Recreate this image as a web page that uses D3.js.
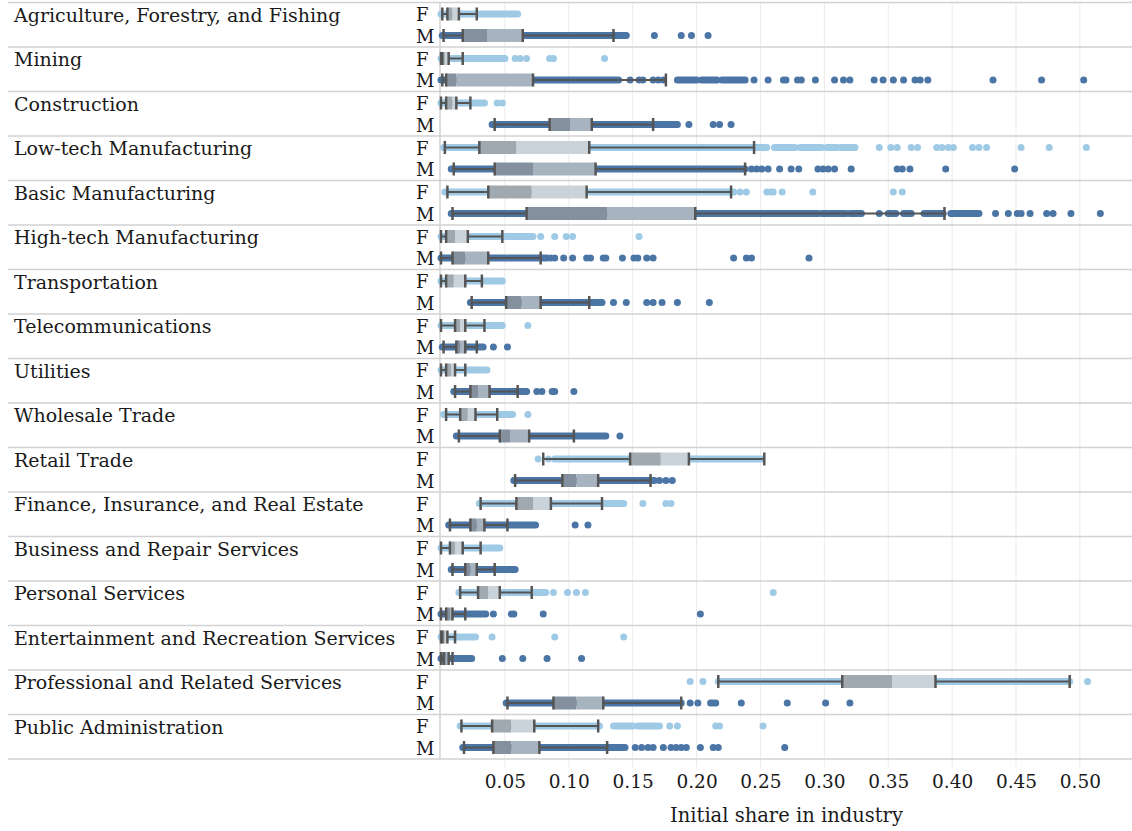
<!DOCTYPE html>
<meta charset="utf-8">
<script src="https://d3js.org/d3.v7.min.js"></script>
<style>
  body { margin: 0; background: #fff; }
  text { font-family: "DejaVu Serif", serif; fill: #1a1a1a; }
</style>
<div id="chart"></div>
<script>

// industries, top to bottom
var industries = [
  "Agriculture, Forestry, and Fishing", "Mining", "Construction",
  "Low-tech Manufacturing", "Basic Manufacturing", "High-tech Manufacturing",
  "Transportation", "Telecommunications", "Utilities", "Wholesale Trade",
  "Retail Trade", "Finance, Insurance, and Real Estate",
  "Business and Repair Services", "Personal Services",
  "Entertainment and Recreation Services", "Professional and Related Services",
  "Public Administration"
];
var sexes = ["F", "M"];

// box stats per industry: [whisker low, Q1, median, Q3, whisker high]
var statsF = [
  [0.001, 0.005, 0.009, 0.014, 0.028], [0.000, 0.001, 0.003, 0.006, 0.017],
  [0.000, 0.004, 0.009, 0.012, 0.023], [0.003, 0.030, 0.059, 0.116, 0.245],
  [0.005, 0.037, 0.071, 0.114, 0.227], [0.000, 0.004, 0.011, 0.021, 0.048],
  [0.000, 0.004, 0.010, 0.019, 0.032], [0.000, 0.011, 0.015, 0.019, 0.034],
  [0.000, 0.004, 0.008, 0.011, 0.019], [0.004, 0.015, 0.021, 0.027, 0.044],
  [0.080, 0.148, 0.172, 0.194, 0.253], [0.031, 0.059, 0.072, 0.086, 0.126],
  [0.000, 0.007, 0.011, 0.017, 0.031], [0.015, 0.029, 0.037, 0.046, 0.071],
  [0.000, 0.001, 0.003, 0.005, 0.011], [0.217, 0.314, 0.353, 0.387, 0.492],
  [0.016, 0.040, 0.055, 0.073, 0.123]
];
var statsM = [
  [0.002, 0.017, 0.036, 0.064, 0.135], [0.001, 0.004, 0.012, 0.072, 0.176],
  [0.042, 0.085, 0.101, 0.118, 0.166], [0.010, 0.042, 0.072, 0.121, 0.238],
  [0.009, 0.067, 0.130, 0.199, 0.394], [0.000, 0.009, 0.019, 0.037, 0.078],
  [0.024, 0.051, 0.063, 0.078, 0.116], [0.002, 0.012, 0.015, 0.019, 0.028],
  [0.011, 0.023, 0.029, 0.038, 0.060], [0.014, 0.046, 0.054, 0.069, 0.104],
  [0.058, 0.095, 0.106, 0.123, 0.164], [0.007, 0.023, 0.028, 0.034, 0.052],
  [0.009, 0.019, 0.023, 0.028, 0.042], [0.000, 0.004, 0.007, 0.009, 0.019],
  [0.000, 0.002, 0.004, 0.006, 0.009], [0.052, 0.088, 0.106, 0.127, 0.188],
  [0.018, 0.041, 0.055, 0.077, 0.130]
];

// stretches where the points overlap into a solid run: [from, to]
var bandsF = [
  [[0.000, 0.060]], [[0.000, 0.050]], [[0.000, 0.034]],
  [[0.002, 0.255], [0.261, 0.277], [0.281, 0.298], [0.302, 0.310], [0.313, 0.324]],
  [[0.003, 0.229]], [[0.000, 0.072]], [[0.000, 0.048]], [[0.000, 0.048]],
  [[0.000, 0.036]], [[0.002, 0.056]], [[0.089, 0.251]], [[0.030, 0.143]],
  [[0.000, 0.046]], [[0.014, 0.082]], [[0.000, 0.027]], [[0.217, 0.492]],
  [[0.015, 0.124], [0.135, 0.150], [0.154, 0.171]]
];
var bandsM = [
  [[0.001, 0.145]], [[0.000, 0.139], [0.185, 0.200], [0.204, 0.216], [0.220, 0.238]], [[0.040, 0.185]],
  [[0.008, 0.238]],
  [[0.008, 0.295], [0.298, 0.317], [0.320, 0.329], [0.350, 0.356], [0.362, 0.368], [0.378, 0.393], [0.399, 0.421]],
  [[0.000, 0.083]], [[0.023, 0.126]], [[0.001, 0.033]], [[0.010, 0.067]],
  [[0.012, 0.129]], [[0.057, 0.167]], [[0.006, 0.074]], [[0.008, 0.058]],
  [[0.000, 0.035]], [[0.000, 0.024]], [[0.051, 0.188]], [[0.017, 0.144]]
];

// single points standing apart
var outF = [
  [], [0.058, 0.062, 0.067, 0.085, 0.088, 0.128], [0.044, 0.048],
  [0.343, 0.352, 0.357, 0.368, 0.373, 0.388, 0.392, 0.397, 0.401, 0.416, 0.421, 0.427, 0.454, 0.476, 0.505],
  [0.234, 0.239, 0.255, 0.258, 0.260, 0.267, 0.291, 0.354, 0.361],
  [0.078, 0.089, 0.098, 0.103, 0.155], [], [0.068], [], [0.068],
  [0.076, 0.084], [0.158, 0.176, 0.180], [],
  [0.088, 0.099, 0.106, 0.113, 0.260], [0.040, 0.089, 0.143],
  [0.195, 0.205, 0.506], [0.179, 0.185, 0.215, 0.218, 0.252]
];
var outM = [
  [0.167, 0.188, 0.196, 0.209],
  [0.148, 0.155, 0.158, 0.166, 0.170, 0.174, 0.245, 0.256, 0.268, 0.270, 0.279, 0.282, 0.293, 0.308, 0.315, 0.320, 0.339, 0.346, 0.354, 0.362, 0.371, 0.375, 0.381, 0.432, 0.470, 0.503],
  [0.194, 0.213, 0.218, 0.227],
  [0.243, 0.247, 0.251, 0.256, 0.265, 0.274, 0.280, 0.295, 0.299, 0.303, 0.308, 0.321, 0.357, 0.361, 0.367, 0.395, 0.449],
  [0.343, 0.434, 0.444, 0.451, 0.454, 0.461, 0.474, 0.479, 0.493, 0.516],
  [0.086, 0.089, 0.096, 0.103, 0.114, 0.117, 0.127, 0.129, 0.142, 0.151, 0.154, 0.161, 0.166, 0.229, 0.239, 0.243, 0.288],
  [0.135, 0.145, 0.161, 0.166, 0.173, 0.185, 0.210],
  [0.041, 0.052], [0.075, 0.079, 0.087, 0.089, 0.104], [0.140],
  [0.171, 0.176, 0.181], [0.105, 0.115], [],
  [0.041, 0.055, 0.057, 0.080, 0.203], [0.048, 0.064, 0.083, 0.110],
  [0.195, 0.201, 0.211, 0.213, 0.215, 0.235, 0.271, 0.301, 0.320],
  [0.152, 0.157, 0.162, 0.166, 0.174, 0.180, 0.184, 0.188, 0.192, 0.203, 0.213, 0.217, 0.269]
];

var tickVals = [0.05, 0.10, 0.15, 0.20, 0.25, 0.30, 0.35, 0.40, 0.45, 0.50];

// layout
var width = 1132, height = 831;
var top0 = 2.5, rowH = 44.5, plotLeft = 441, plotRight = 1131;
var bottom = top0 + rowH * industries.length;
var sexOffset = {F: 11.5, M: 33};
var colors = {F: "#9fcae6", M: "#4a75a5"};
var boxLo = {F: "#a0a9b0", M: "#84909d"};
var boxHi = {F: "#cbd3da", M: "#a8b3c0"};

var svg = d3.select("#chart").append("svg")
    .attr("width", width)
    .attr("height", height);

var x = d3.scaleLinear().domain([0, 0.54]).range([plotLeft, plotRight]);
var y = d3.scaleBand().domain(industries).range([top0, bottom]);

// vertical gridlines
svg.append("g").selectAll("line")
  .data(tickVals)
  .enter().append("line")
    .attr("x1", function(d) { return x(d) }).attr("x2", function(d) { return x(d) })
    .attr("y1", top0).attr("y2", bottom + 8)
    .style("stroke", "#ebebeb").style("stroke-width", 1)

// row separators
svg.append("g").selectAll("line")
  .data(d3.range(industries.length + 1))
  .enter().append("line")
    .attr("x1", 8).attr("x2", width)
    .attr("y1", function(i) { return top0 + i * rowH }).attr("y2", function(i) { return top0 + i * rowH })
    .style("stroke", "#d2d2d2").style("stroke-width", 1.5)

svg.append("line")
  .attr("x1", x(0) - 1).attr("x2", x(0) - 1)
  .attr("y1", top0).attr("y2", bottom)
  .style("stroke", "#d2d2d2").style("stroke-width", 1.5)

// industry labels
svg.append("g").selectAll("text")
  .data(industries)
  .enter().append("text")
    .attr("x", 14)
    .attr("y", function(d) { return y(d) + 19 })
    .style("font-size", "19px")
    .text(function(d) { return d })

// F / M labels
industries.forEach(function(ind) {
  sexes.forEach(function(s) {
    svg.append("text")
      .attr("x", 416)
      .attr("y", y(ind) + (s == "F" ? 18.5 : 40))
      .style("font-size", "18px")
      .text(s)
  })
})

function drawGroup(i, s, stats, bands, outs) {
  var cy = y(industries[i]) + sexOffset[s];
  var g = svg.append("g");

  g.selectAll(".band")
    .data(bands)
    .enter().append("line")
      .attr("x1", function(d) { return x(d[0]) }).attr("x2", function(d) { return x(d[1]) })
      .attr("y1", cy).attr("y2", cy)
      .style("stroke", colors[s]).style("stroke-width", 7)
      .style("stroke-linecap", "round")

  g.selectAll("circle")
    .data(outs)
    .enter().append("circle")
      .attr("cx", function(d) { return x(d) })
      .attr("cy", cy)
      .attr("r", 3.5)
      .style("fill", colors[s])

  var bh = 13;
  g.append("rect")
    .attr("x", x(stats[1])).attr("width", x(stats[2]) - x(stats[1]))
    .attr("y", cy - bh / 2).attr("height", bh)
    .style("fill", boxLo[s])
  g.append("rect")
    .attr("x", x(stats[2])).attr("width", x(stats[3]) - x(stats[2]))
    .attr("y", cy - bh / 2).attr("height", bh)
    .style("fill", boxHi[s])

  // whiskers
  g.selectAll(".wh")
    .data([[stats[0], stats[1]], [stats[3], stats[4]]])
    .enter().append("line")
      .attr("x1", function(d) { return x(d[0]) }).attr("x2", function(d) { return x(d[1]) })
      .attr("y1", cy).attr("y2", cy)
      .style("stroke", "#555").style("stroke-width", 2)

  // caps and box edges
  g.selectAll(".cap")
    .data([stats[0], stats[1], stats[3], stats[4]])
    .enter().append("line")
      .attr("x1", function(d) { return x(d) }).attr("x2", function(d) { return x(d) })
      .attr("y1", cy - bh / 2).attr("y2", cy + bh / 2)
      .style("stroke", "#555").style("stroke-width", 2.5)
}

industries.forEach(function(ind, i) {
  drawGroup(i, "F", statsF[i], bandsF[i], outF[i]);
  drawGroup(i, "M", statsM[i], bandsM[i], outM[i]);
})

// x axis
var axis = svg.append("g")
  .attr("transform", "translate(0," + (bottom + 9) + ")")
  .call(d3.axisBottom(x).tickValues(tickVals).tickFormat(d3.format(".2f")).tickSize(0).tickPadding(7));
axis.select(".domain").remove();
axis.selectAll("text")
  .style("font-family", "DejaVu Serif, serif")
  .style("font-size", "18.5px")
  .style("fill", "#1a1a1a");

svg.append("text")
  .attr("x", (plotLeft + width) / 2)
  .attr("y", 822)
  .attr("text-anchor", "middle")
  .style("font-size", "19.5px")
  .text("Initial share in industry")

</script>
